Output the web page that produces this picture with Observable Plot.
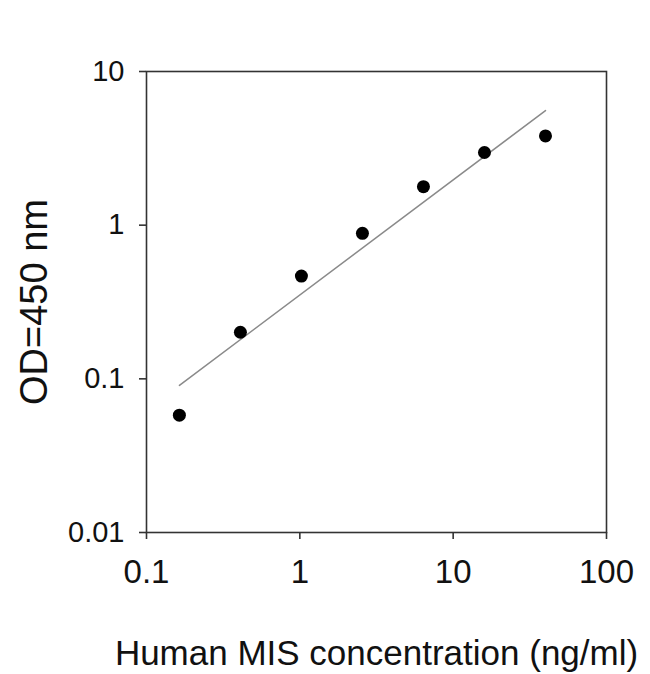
<!DOCTYPE html>
<html>
<head>
<meta charset="utf-8">
<script src="https://cdn.jsdelivr.net/npm/d3@7"></script>
<script src="https://cdn.jsdelivr.net/npm/@observablehq/plot@0.6"></script>
<style>
  html, body { margin: 0; padding: 0; background: #fff; }
  #chart { width: 650px; height: 674px; }
  svg { font-family: "Liberation Sans", Arial, sans-serif; color: #000; }
</style>
</head>
<body>
<div id="chart"></div>
<script>
// Data (log-log standard curve)
const concentration = [0.16384, 0.4096, 1.024, 2.56, 6.4, 16, 40];
const od = [0.058, 0.201, 0.466, 0.885, 1.78, 2.97, 3.81];
const fitX = [0.164, 40];
const fitY = [0.0906, 5.57];
const xTicks = [0.1, 1, 10, 100];
const yTicks = [0.01, 0.1, 1, 10];
const xTitle = "Human MIS concentration (ng/ml)";
const yTitle = "OD=450 nm";

const points = concentration.map((c, i) => ({c, od: od[i]}));
const fit = fitX.map((c, i) => ({c, od: fitY[i]}));

const chart = Plot.plot({
  width: 650,
  height: 674,
  marginLeft: 146,
  marginRight: 44,
  marginTop: 71,
  marginBottom: 142,
  x: {type: "log", domain: [0.1, 100]},
  y: {type: "log", domain: [0.01, 10]},
  marks: [
    Plot.frame({stroke: "#333", strokeWidth: 1.6}),
    Plot.axisX({ticks: xTicks, tickFormat: d => String(d), tickSize: 7, tickPadding: 20,
      fontSize: 33, label: null, stroke: "#333", strokeWidth: 1.6, fill: "#111"}),
    Plot.axisY({ticks: yTicks, tickFormat: d => String(d), tickSize: 7, tickPadding: 15,
      fontSize: 29, label: null, stroke: "#333", strokeWidth: 1.6, fill: "#111"}),
    Plot.line(fit, {x: "c", y: "od", stroke: "#8a8a8a", strokeWidth: 1.5}),
    Plot.dot(points, {x: "c", y: "od", r: 6.5, fill: "#000", stroke: "none"}),
    Plot.text([xTitle], {frameAnchor: "bottom", dy: 132, fontSize: 35, fill: "#111", text: d => d}),
    Plot.text([yTitle], {frameAnchor: "left", dx: -112, rotate: -90, textAnchor: "middle",
      fontSize: 38, fill: "#111", text: d => d})
  ]
});
document.getElementById("chart").appendChild(chart);
</script>
</body>
</html>
